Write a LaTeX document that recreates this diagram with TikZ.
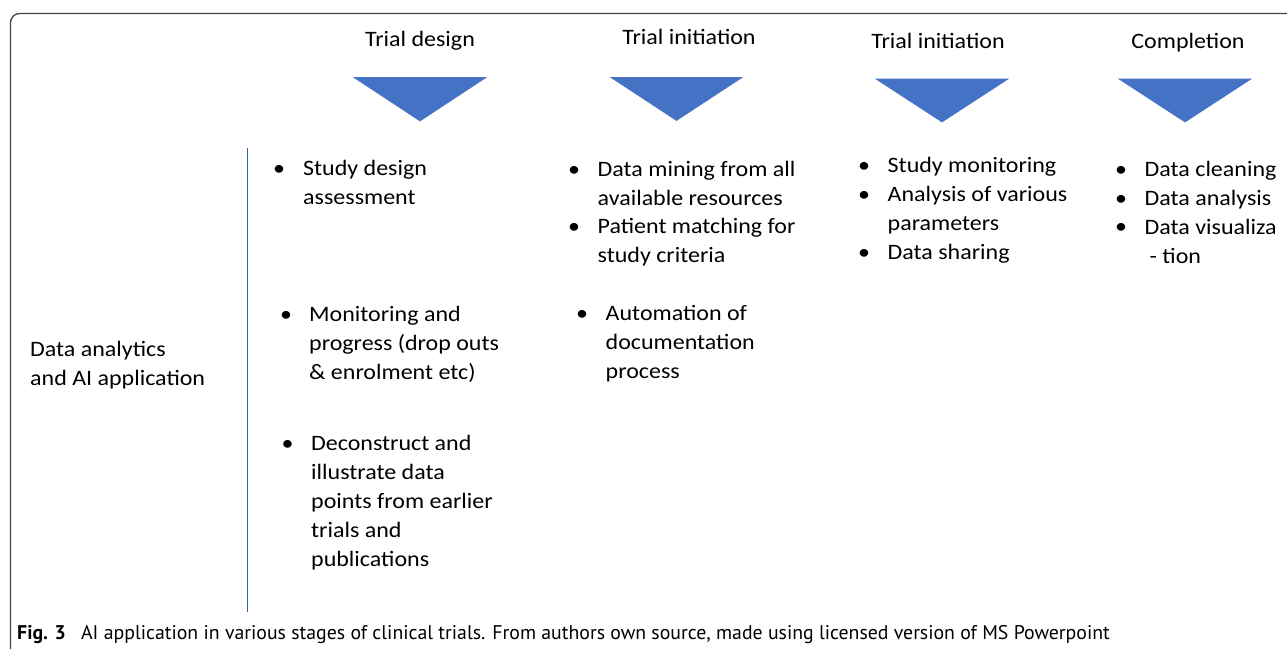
\documentclass[tikz,border=0pt]{standalone}
\usepackage{fontspec}
\setmainfont[FakeStretch=1.09]{Carlito}
\newfontfamily\capfont{PT Sans}
\definecolor{tri}{HTML}{4472C4}
\definecolor{framegray}{HTML}{444444}
\newcommand{\bodyfont}{\fontsize{22}{29}\selectfont}
\begin{document}
\begin{tikzpicture}[x=1pt,y=-1pt,
  hdr/.style={anchor=base,inner sep=0pt,font=\bodyfont},
  item/.style={anchor=base west,inner sep=0pt,align=left,font=\bodyfont},
  dot/.style={anchor=base west,inner sep=0pt,font=\bodyfont},
  stage/.style={fill=tri,draw=tri,line width=0.6pt,line join=miter}]
\useasboundingbox (0,0) rectangle (1287,649);

% outer frame, open at right and bottom
\draw[framegray,line width=1.3pt,rounded corners=9pt] (10.5,649) -- (10.5,13.5) -- (1287,13.5);

% stage headings
\node[hdr] (h1) at (420,46) {Trial design};
\node[hdr] (h2) at (689,44.5) {Trial initiation};
\node[hdr] (h3) at (938,48) {Trial initiation};
\node[hdr] (h4) at (1188,48) {Completion};

% stage markers
\draw[stage] (354,77.5) -- (486,77.5) -- (420,121) -- cycle;
\draw[stage] (611,77.5) -- (742,77.5) -- (676.5,120.5) -- cycle;
\draw[stage] (876,79) -- (1008,79) -- (942,122) -- cycle;
\draw[stage] (1119,79) -- (1251,79) -- (1185,122) -- cycle;

% row label and separator (multi-line nodes sit on their last baseline)
\node[item] (lab) at (30,385.7) {Data analytics\\and AI application};
\coordinate (sepTop) at (247.5,148);
\coordinate (sepBot) at (247.5,612);
\draw[tri!85!black,line width=0.9pt] (sepTop) -- (sepBot);

% column 1: trial design
\node[dot] (b11) at (273,175.7) {•};
\node[item] (t11) at (303,204.7) {Study design\\assessment};
\node[dot] (b12) at (280,321.7) {•};
\node[item] (t12) at (309,379.7) {Monitoring and\\progress (drop outs\\\& enrolment etc)};
\node[dot] (b13) at (281.5,450.7) {•};
\node[item] (t13) at (311,566.7) {Deconstruct and\\illustrate data\\points from earlier\\trials and\\publications};

% column 2: trial initiation
\node[dot] (b21) at (568,176) {•};
\node[item] (t21) at (597.5,205) {Data mining from all\\available resources};
\node[dot] (b22) at (568,233.5) {•};
\node[item] (t22) at (597.5,262.5) {Patient matching for\\study criteria};
\node[dot] (b23) at (576,320) {•};
\node[item] (t23) at (605.5,378) {Automation of\\documentation\\process};

% column 3: trial initiation
\node[dot] (b31) at (858,172.7) {•};
\node[item] (t31) at (887.5,172.7) {Study monitoring};
\node[dot] (b32) at (858,201.7) {•};
\node[item] (t32) at (887.5,230.7) {Analysis of various\\parameters};
\node[dot] (b33) at (858,259.3) {•};
\node[item] (t33) at (887.5,259.3) {Data sharing};

% column 4: completion
\node[dot] (b41) at (1115,176) {•};
\node[item] (t41) at (1144.5,263) {Data cleaning\\Data analysis\\Data visualiza\\\hspace*{5pt}- tion};
\node[dot] (b42) at (1115,205) {•};
\node[dot] (b43) at (1115,233.5) {•};

% caption
\node[anchor=base west,inner sep=0pt,font=\capfont\fontsize{19.8}{22}\selectfont] (cap) at (17,639)
  {\textbf{Fig. 3}\hspace{0.5em} AI application in various stages of clinical trials. From authors own source, made using licensed version of MS Powerpoint};
\end{tikzpicture}
\end{document}
